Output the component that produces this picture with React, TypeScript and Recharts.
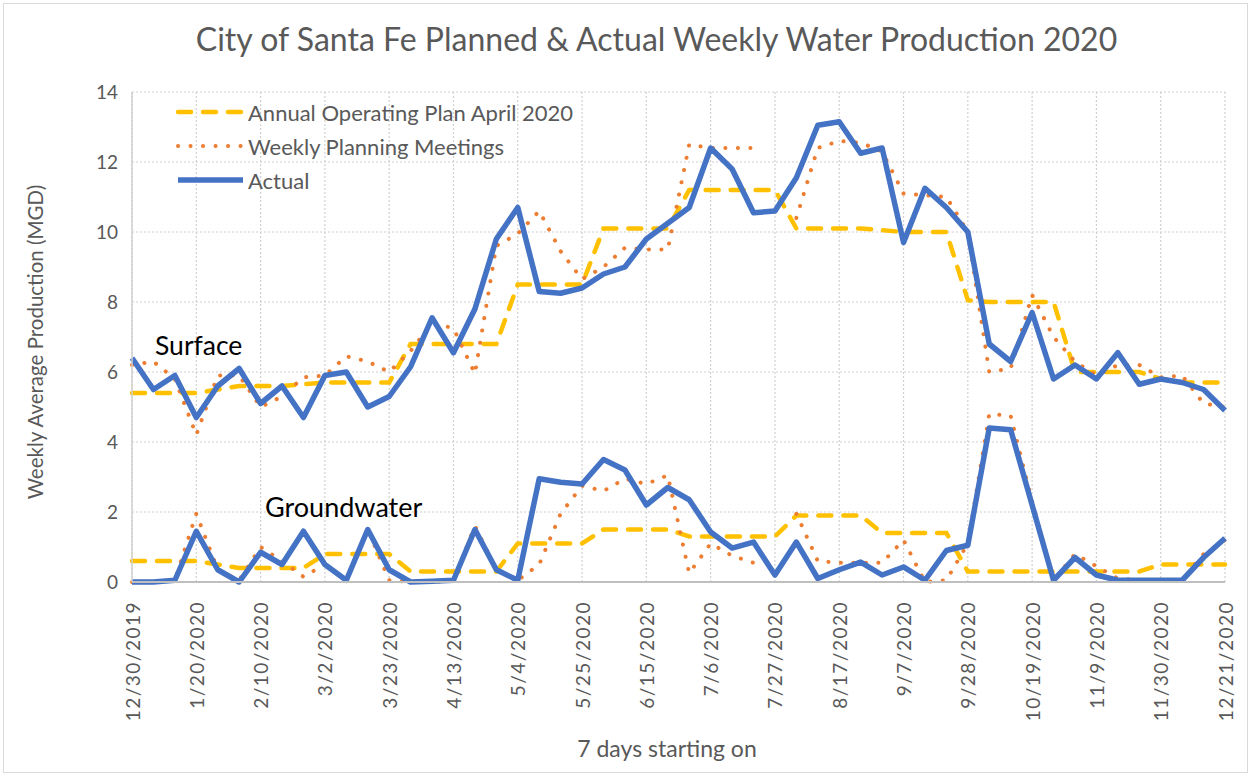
import React from "react";
import { LineChart, Line, XAxis, YAxis, CartesianGrid, Legend } from "recharts";

// week starting dates (52 weeks)
const weeks = [
  "12/30/2019", "1/6/2020", "1/13/2020", "1/20/2020", "1/27/2020", "2/3/2020", "2/10/2020",
  "2/17/2020", "2/24/2020", "3/2/2020", "3/9/2020", "3/16/2020", "3/23/2020", "3/30/2020",
  "4/6/2020", "4/13/2020", "4/20/2020", "4/27/2020", "5/4/2020", "5/11/2020", "5/18/2020",
  "5/25/2020", "6/1/2020", "6/8/2020", "6/15/2020", "6/22/2020", "6/29/2020", "7/6/2020",
  "7/13/2020", "7/20/2020", "7/27/2020", "8/3/2020", "8/10/2020", "8/17/2020", "8/24/2020",
  "8/31/2020", "9/7/2020", "9/14/2020", "9/21/2020", "9/28/2020", "10/5/2020", "10/12/2020",
  "10/19/2020", "10/26/2020", "11/2/2020", "11/9/2020", "11/16/2020", "11/23/2020",
  "11/30/2020", "12/7/2020", "12/14/2020", "12/21/2020",
];

const tickLabels = [
  "12/30/2019", "1/20/2020", "2/10/2020", "3/2/2020", "3/23/2020", "4/13/2020",
  "5/4/2020", "5/25/2020", "6/15/2020", "7/6/2020", "7/27/2020", "8/17/2020",
  "9/7/2020", "9/28/2020", "10/19/2020", "11/9/2020", "11/30/2020", "12/21/2020",
];

const yTicks = [0, 2, 4, 6, 8, 10, 12, 14];

// Surface water (MGD)
const surfacePlan = [
  5.4, 5.4, 5.4, 5.4, 5.5, 5.6, 5.6, 5.6, 5.65, 5.7, 5.7, 5.7, 5.7, 6.8, 6.8, 6.8, 6.8, 6.8,
  8.5, 8.5, 8.5, 8.5, 10.1, 10.1, 10.1, 10.1, 11.2, 11.2, 11.2, 11.2, 11.2, 10.1, 10.1, 10.1,
  10.1, 10.05, 10.0, 10.0, 10.0, 8.05, 8.0, 8.0, 8.0, 8.0, 6.0, 6.0, 6.0, 6.0, 5.8, 5.7, 5.7, 5.7,
];
const surfaceMeetings = [
  6.2, 6.3, 5.8, 4.2, 5.9, 5.9, 5.0, 5.3, 5.85, 5.9, 6.45, 6.3, 6.0, 6.6, 7.4, 7.25, 5.95, 9.6,
  9.95, 10.6, 9.45, 8.65, 9.0, 9.55, 9.5, 9.5, 12.5, 12.4, 12.4, 12.4, null, 10.4, 12.4, 12.6,
  12.55, 12.3, 11.1, 11.05, 11.0, 10.0, 6.0, 6.1, 8.2, 7.0, 6.3, 5.9, 6.2, 6.2, 5.85, 5.9, 5.1, 5.0,
];
const surfaceActual = [
  6.4, 5.5, 5.9, 4.7, 5.6, 6.1, 5.1, 5.6, 4.7, 5.9, 6.0, 5.0, 5.3, 6.15, 7.55, 6.55, 7.8, 9.8,
  10.7, 8.3, 8.25, 8.4, 8.8, 9.0, 9.8, 10.25, 10.7, 12.4, 11.8, 10.55, 10.6, 11.55, 13.05, 13.15,
  12.25, 12.4, 9.7, 11.25, 10.7, 10.0, 6.8, 6.3, 7.7, 5.8, 6.2, 5.8, 6.55, 5.65, 5.8, 5.7, 5.5, 4.9,
];

// Groundwater (MGD)
const groundPlan = [
  0.6, 0.6, 0.6, 0.6, 0.5, 0.4, 0.4, 0.4, 0.4, 0.8, 0.8, 0.8, 0.8, 0.3, 0.3, 0.3, 0.3, 0.3,
  1.1, 1.1, 1.1, 1.1, 1.5, 1.5, 1.5, 1.5, 1.3, 1.3, 1.3, 1.3, 1.3, 1.9, 1.9, 1.9, 1.9, 1.4,
  1.4, 1.4, 1.4, 0.3, 0.3, 0.3, 0.3, 0.3, 0.3, 0.3, 0.3, 0.3, 0.5, 0.5, 0.5, 0.5,
];
const groundMeetings = [
  0, 0, 0.05, 1.95, 0.35, 0.05, 1.0, 0.6, 0.15, 0.5, 0.05, 1.5, 0.05, 0, 0, 0.05, 1.6, 0.35,
  0.05, 0.5, 1.95, 2.75, 2.6, 2.95, 2.8, 3.05, 0.25, 1.1, 0.75, 0.55, null, 1.95, 0.6, 0.55,
  0.55, 0.55, 1.2, 0, 0.05, 1.1, 4.8, 4.75, 2.3, 0.05, 0.8, 0.45, 0.1, 0.05, 0.05, 0.05, 0.8, 1.2,
];
const groundActual = [
  0, 0, 0.05, 1.45, 0.35, 0, 0.85, 0.5, 1.45, 0.5, 0.05, 1.5, 0.35, 0, 0.02, 0.05, 1.5, 0.35,
  0.05, 2.95, 2.85, 2.8, 3.5, 3.2, 2.2, 2.7, 2.35, 1.43, 0.97, 1.14, 0.2, 1.14, 0.1, 0.35, 0.57,
  0.2, 0.43, 0.05, 0.9, 1.05, 4.4, 4.35, 2.2, 0.05, 0.7, 0.2, 0.05, 0.05, 0.05, 0.05, 0.7, 1.25,
];

const data = weeks.map((week, i) => ({
  week,
  surfacePlan: surfacePlan[i],
  surfaceMeetings: surfaceMeetings[i],
  surfaceActual: surfaceActual[i],
  groundPlan: groundPlan[i],
  groundMeetings: groundMeetings[i],
  groundActual: groundActual[i],
}));

const FONT = "Lato, 'Open Sans', sans-serif";
const GREY = "#595959";

const planStyle = { stroke: "#FFC000", strokeWidth: 4.5, strokeDasharray: "13 12", strokeLinecap: "round" as const };
const meetStyle = { stroke: "#ED7D31", strokeWidth: 4, strokeDasharray: "0.1 12.4", strokeLinecap: "round" as const };
const actualStyle = { stroke: "#4472C4", strokeWidth: 5.5, strokeLinejoin: "round" as const };

const legendRows = [
  { key: "surfacePlan", label: "Annual Operating Plan April 2020", style: planStyle },
  { key: "surfaceMeetings", label: "Weekly Planning Meetings", style: meetStyle },
  { key: "surfaceActual", label: "Actual", style: actualStyle },
];

function renderLegend() {
  return (
    <div style={{ fontFamily: FONT, fontSize: 22, color: GREY }}>
      {legendRows.map((row) => (
        <div key={row.key} style={{ display: "flex", alignItems: "center", height: 34 }}>
          <svg width={74} height={12} style={{ marginRight: 2 }}>
            <line x1={6} y1={6} x2={71} y2={6} {...row.style} />
          </svg>
          <span>{row.label}</span>
        </div>
      ))}
    </div>
  );
}

function XTick(props: any) {
  const { x, payload } = props;
  const y = 601;
  return (
    <text
      x={x}
      y={y}
      transform={`rotate(-90, ${x}, ${y})`}
      textAnchor="end"
      dominantBaseline="central"
      fill={GREY}
      fontFamily={FONT}
      fontSize={19}
      letterSpacing={1.5}
    >
      {payload.value}
    </text>
  );
}

export default function App() {
  return (
    <div style={{ position: "absolute", left: 0, top: 0, width: 1253, height: 778, background: "#fff" }}>
      <div
        style={{
          position: "absolute", left: 3, top: 3, width: 1245, height: 770,
          border: "1px solid #d9d9d9", boxSizing: "border-box",
        }}
      />
      <LineChart
        width={1253}
        height={778}
        data={data}
        margin={{ top: 92, right: 28, bottom: 0, left: 72 }}
      >
        <CartesianGrid stroke="#d0d0d0" strokeDasharray="2 2" strokeWidth={1.2} />
        <XAxis
          dataKey="week"
          ticks={tickLabels}
          interval={0}
          height={196}
          tick={<XTick />}
          tickLine={false}
          axisLine={{ stroke: "#bfbfbf", strokeWidth: 2 }}
        />
        <YAxis
          domain={[0, 14]}
          ticks={yTicks}
          width={60}
          tickLine={false}
          tickMargin={8}
          axisLine={{ stroke: "#d0d0d0", strokeWidth: 1.5 }}
          tick={{ fill: GREY, fontSize: 19, fontFamily: FONT }}
        />
        <Legend
          layout="vertical"
          align="center"
          verticalAlign="middle"
          content={renderLegend}
          wrapperStyle={{ left: 172, top: 95, width: 440 }}
        />
        <Line dataKey="surfacePlan" {...planStyle} dot={false} activeDot={false} isAnimationActive={false} legendType="none" />
        <Line dataKey="groundPlan" {...planStyle} dot={false} activeDot={false} isAnimationActive={false} legendType="none" />
        <Line dataKey="surfaceMeetings" {...meetStyle} dot={false} activeDot={false} isAnimationActive={false} legendType="none" />
        <Line dataKey="groundMeetings" {...meetStyle} dot={false} activeDot={false} isAnimationActive={false} legendType="none" />
        <Line dataKey="surfaceActual" {...actualStyle} dot={false} activeDot={false} isAnimationActive={false} legendType="none" />
        <Line dataKey="groundActual" {...actualStyle} dot={false} activeDot={false} isAnimationActive={false} legendType="none" />
      </LineChart>
      <div
        style={{
          position: "absolute", left: 0, width: 1313, top: 38, textAlign: "center",
          transform: "translateY(-50%)",
          fontFamily: FONT, fontSize: 32, color: GREY, whiteSpace: "nowrap",
        }}
      >
        City of Santa Fe Planned &amp; Actual Weekly Water Production 2020
      </div>
      <div
        style={{
          position: "absolute", left: 35, top: 342, transform: "translate(-50%, -50%) rotate(-90deg)",
          fontFamily: FONT, fontSize: 20.5, color: GREY, whiteSpace: "nowrap",
        }}
      >
        Weekly Average Production (MGD)
      </div>
      <div
        style={{
          position: "absolute", left: 667, top: 748, transform: "translate(-50%, -50%)",
          fontFamily: FONT, fontSize: 23, color: GREY, whiteSpace: "nowrap",
        }}
      >
        7 days starting on
      </div>
      <div
        style={{
          position: "absolute", left: 155, top: 345, transform: "translateY(-50%)",
          fontFamily: FONT, fontSize: 26.5, color: "#000", whiteSpace: "nowrap",
        }}
      >
        Surface
      </div>
      <div
        style={{
          position: "absolute", left: 265, top: 506, transform: "translateY(-50%)",
          fontFamily: FONT, fontSize: 27, color: "#000", whiteSpace: "nowrap",
        }}
      >
        Groundwater
      </div>
    </div>
  );
}
